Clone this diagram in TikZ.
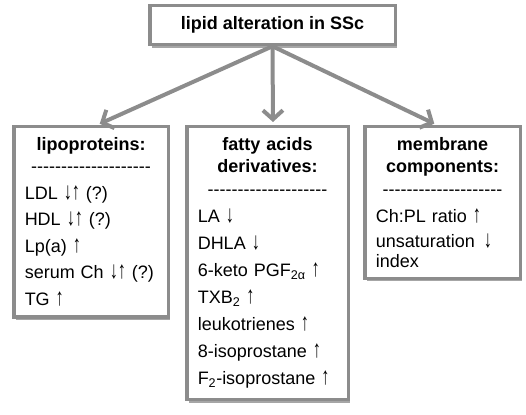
\documentclass[tikz,border=0pt]{standalone}
\usepackage{fontspec}
\setmainfont{Liberation Sans}
\usepackage{graphicx}
\usepackage{tikz}
\usetikzlibrary{arrows.meta}
\usetikzlibrary{shadows}
\usetikzlibrary{positioning}

\definecolor{boxgray}{RGB}{140,140,140}
\newcommand{\sepline}{\foreach \k in {1,...,20}{-}}
\newcommand{\incr}{\scalebox{.9}[1.35]{↑}}
\newcommand{\decr}{\scalebox{.9}[1.35]{↓}}

\begin{document}
\begin{tikzpicture}[x=1pt, y=-1pt,
    box/.style={draw=boxgray, line width=3.5pt, fill=white, anchor=north west,
        inner xsep=11pt, inner ysep=11pt, align=left,
        font=\fontsize{18}{22}\selectfont,
        drop shadow={shadow xshift=2pt, shadow yshift=-3pt, fill=black, opacity=0.35}},
    arr/.style={boxgray, line width=4pt, -{Straight Barb[length=9pt, width=20pt]}, shorten >=3pt}]
    \useasboundingbox (0,0) rectangle (526,414);
    \node[box, minimum width=245.5pt, minimum height=35.5pt, align=center,
        font=\fontsize{18}{22}\selectfont\bfseries] (top) at (148,4) {lipid alteration in SSc};
    \node[box, text width=132.5pt] (lipo) at (12,125) {%
        {\centering\bfseries lipoproteins:\\ \mdseries\sepline\par}\vspace{4.5pt}
        LDL \decr\incr{} (?)\\[4.5pt]
        HDL \decr\incr{} (?)\\[4.5pt]
        Lp(a) \incr\\[4.5pt]
        serum Ch \decr\incr{} (?)\\[4.5pt]
        TG \incr};
    \node[box, text width=139.5pt] (fatty) at (185,125) {%
        {\centering\bfseries fatty acids\\ derivatives:\\[1pt] \mdseries\sepline\par}\vspace{5pt}
        LA \decr\\[5pt]
        DHLA \decr\\[5pt]
        6-keto PGF\textsubscript{2α} \incr\\[5pt]
        TXB\textsubscript{2} \incr\\[5pt]
        leukotrienes \incr\\[5pt]
        8-isoprostane \incr\\[5pt]
        F\textsubscript{2}-isoprostane \incr};
    \node[box, text width=133.5pt] (memb) at (363,125) {%
        {\centering\bfseries membrane\\ components:\\[1pt] \mdseries\sepline\par}\vspace{4.5pt}
        Ch:PL ratio \incr\\[3pt]
        unsaturation\enspace \decr\\[-2pt]
        index};
    % arrows from the top box
    \foreach \b/\s in {lipo/6, fatty/5.5, memb/-5.5}
        \draw[arr] (top.south) -- ([xshift=\s pt]\b.north);
\end{tikzpicture}
\end{document}
